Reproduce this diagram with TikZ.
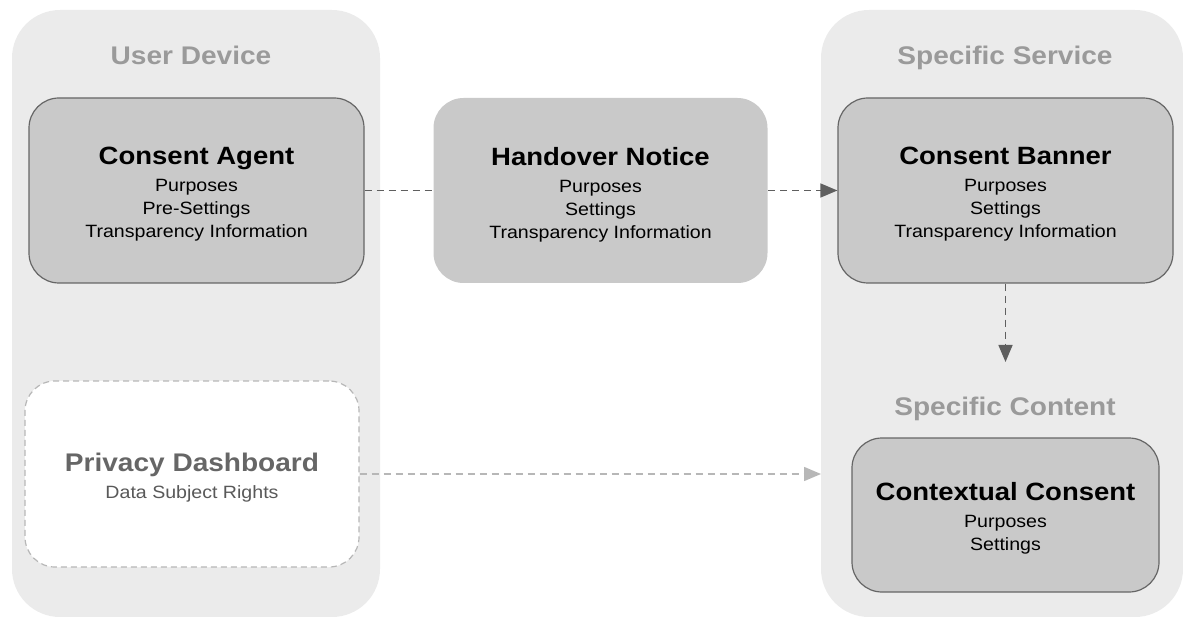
\documentclass[tikz,border=0pt]{standalone}
\usepackage{fontspec}
\setmainfont[FakeStretch=1.1]{Liberation Sans}
\usetikzlibrary{arrows.meta}
\definecolor{contbg}{HTML}{EBEBEB}
\definecolor{boxbg}{HTML}{C9C9C9}
\definecolor{boxline}{HTML}{666666}
\definecolor{headgray}{HTML}{9A9A9A}
\definecolor{arrdark}{HTML}{5F5F5F}
\definecolor{arrlight}{HTML}{B7B7B7}
\definecolor{dashtitle}{HTML}{666666}
\definecolor{dashtext}{HTML}{595959}
\newcommand{\boxtitle}[2][8pt]{\raisebox{0pt}[\dimexpr\height+#1\relax]{\fontsize{25}{27}\bfseries #2}\\[4pt]}
\tikzset{
  container/.style={fill=contbg, draw=none, rounded corners=48pt},
  heading/.style={text=headgray, font=\fontsize{25.5}{28}\bfseries\selectfont, inner sep=0pt, anchor=base},
  infobox/.style={fill=boxbg, draw=boxline, line width=1.2pt, rounded corners=30pt,
    align=center, font=\fontsize{17.8}{23}\selectfont, text=black, inner sep=0pt},
  plainbox/.style={infobox, draw=none},
  optbox/.style={fill=white, draw=arrlight, line width=1.2pt, dash pattern=on 6pt off 4pt,
    rounded corners=30pt, align=center, font=\fontsize{17.8}{23}\selectfont, inner sep=0pt},
  flow/.style={draw=arrdark, line width=1.5pt, dash pattern=on 7pt off 5pt},
  flowarrow/.style={flow, -{Triangle[length=17pt,width=14pt]}},
  lightarrow/.style={draw=arrlight, line width=1.5pt, dash pattern=on 7pt off 5pt,
    -{Triangle[length=17pt,width=14pt]}},
}
\begin{document}
\begin{tikzpicture}[x=1pt,y=-1pt]
\useasboundingbox (0,0) rectangle (1183,617);
% containers
\path[container] (12,10) rectangle (380,617);
\path[container] (821,10) rectangle (1183,617);
% headings
\node[heading] (hud) at (191,65) {User Device};
\node[heading] (hss) at (1005,65) {Specific Service};
\node[heading] (hsc) at (1005,415) {Specific Content};
% boxes
\node[infobox, minimum width=335pt, minimum height=185pt] (ca) at (196.5,190.5)
  {\boxtitle{Consent Agent}Purposes\\Pre-Settings\\Transparency Information};
\node[plainbox, minimum width=334pt, minimum height=185pt] (hn) at (600.5,190.5)
  {\boxtitle{Handover Notice}Purposes\\Settings\\Transparency Information};
\node[infobox, minimum width=335pt, minimum height=185pt] (cb) at (1005.5,190.5)
  {\boxtitle{Consent Banner}Purposes\\Settings\\Transparency Information};
\node[infobox, minimum width=307pt, minimum height=154pt] (cc) at (1005.5,515)
  {\boxtitle[6pt]{Contextual Consent}Purposes\\Settings};
\node[optbox, minimum width=334pt, minimum height=186pt] (pd) at (192,474)
  {\raisebox{0pt}[\dimexpr\height+8pt\relax]{\fontsize{25.5}{27}\bfseries\color{dashtitle}Privacy Dashboard}\\[4pt]{\color{dashtext}Data Subject Rights}};
% connector end points
\coordinate (cbdown) at (1005.5,362);
\coordinate (ccin) at (821,474);
% connectors
\draw[flow] (ca.east) -- (hn.west);
\draw[flowarrow] (hn.east) -- (cb.west);
\draw[flowarrow] (cb.south) -- (cbdown);
\draw[lightarrow] (pd.east) -- (ccin);
\end{tikzpicture}
\end{document}
